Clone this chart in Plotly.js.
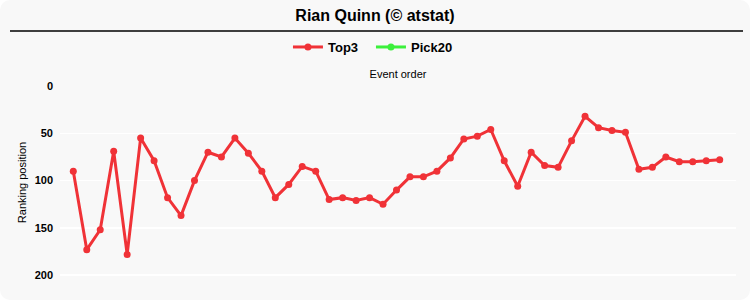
<!DOCTYPE html>
<html>
<head>
<meta charset="utf-8">
<script src="https://cdn.plot.ly/plotly-3.0.1.min.js"></script>
<style>
  html, body { margin: 0; padding: 0; background: #ffffff; }
  #chart { width: 750px; height: 300px; background: #f8f8f8; border-radius: 10px; overflow: hidden; }
</style>
</head>
<body>
<div id="chart"></div>
<script>
const chartTitle = "Rian Quinn (© atstat)";
const seriesNames = ["Top3", "Pick20"];
const top3Ranks = [90,173,152,69,178,55,79,118,137,100,70,75,55,71,90,118,104,85,90,120,118,121,118,125,110,96,96,90,76,56,53,46,79,106,70,84,86,58,32,44,47,49,88,86,75,80,80,79,78];
const pick20Ranks = [null];
const yTicks = [0, 50, 100, 150, 200];

const events = top3Ranks.map((_, i) => i + 1);

const font = "Liberation Sans, Arial, sans-serif";

const traces = [
  {
    x: events, y: top3Ranks, name: seriesNames[0], type: "scatter", mode: "lines+markers",
    line: { color: "rgb(240,50,55)", width: 3 },
    marker: { color: "rgb(240,50,55)", size: 7 }
  },
  {
    x: [1], y: pick20Ranks, name: seriesNames[1], type: "scatter", mode: "lines+markers",
    line: { color: "rgb(60,240,60)", width: 3 },
    marker: { color: "rgb(60,240,60)", size: 7 }
  }
];

const layout = {
  width: 750, height: 300,
  paper_bgcolor: "rgba(0,0,0,0)", plot_bgcolor: "rgba(0,0,0,0)",
  margin: { l: 60, r: 14, t: 86, b: 21 },
  font: { family: font, color: "#000" },
  title: {
    text: "<b>" + chartTitle + "</b>",
    font: { family: font, size: 16, color: "#000" },
    x: 0.5, xanchor: "center", xref: "container",
    y: 0.95, yanchor: "middle", yref: "container"
  },
  showlegend: true,
  legend: {
    orientation: "h", x: 0.460, xanchor: "center", y: 1.202, yanchor: "middle",
    font: { family: font, size: 13, color: "#000", weight: "bold" },
    bgcolor: "rgba(0,0,0,0)",
    entrywidth: 38, entrywidthmode: "pixels"
  },
  xaxis: {
    side: "top", showticklabels: false, showgrid: false, zeroline: false, showline: false, ticks: "",
    range: [0.013, 50.21],
    title: { text: "Event order", font: { family: font, size: 11, color: "#000" }, standoff: 4 }
  },
  yaxis: {
    autorange: false, range: [204, 0],
    tickvals: yTicks, ticktext: yTicks.map(String),
    tickfont: { family: font, size: 11, color: "#000", weight: "bold" },
    showgrid: true, gridcolor: "#ffffff", gridwidth: 1.5, zeroline: false, showline: false, ticks: "",
    ticklabelstandoff: 6,
    title: { text: "Ranking position", font: { family: font, size: 11, color: "#000" }, standoff: 5 }
  },
  shapes: [
    { type: "line", xref: "paper", yref: "paper", x0: -0.074, x1: 1.0104, y0: 1.285, y1: 1.285,
      line: { color: "#000", width: 1.5 } }
  ]
};

Plotly.newPlot("chart", traces, layout, { displayModeBar: false, staticPlot: true });
</script>
</body>
</html>
